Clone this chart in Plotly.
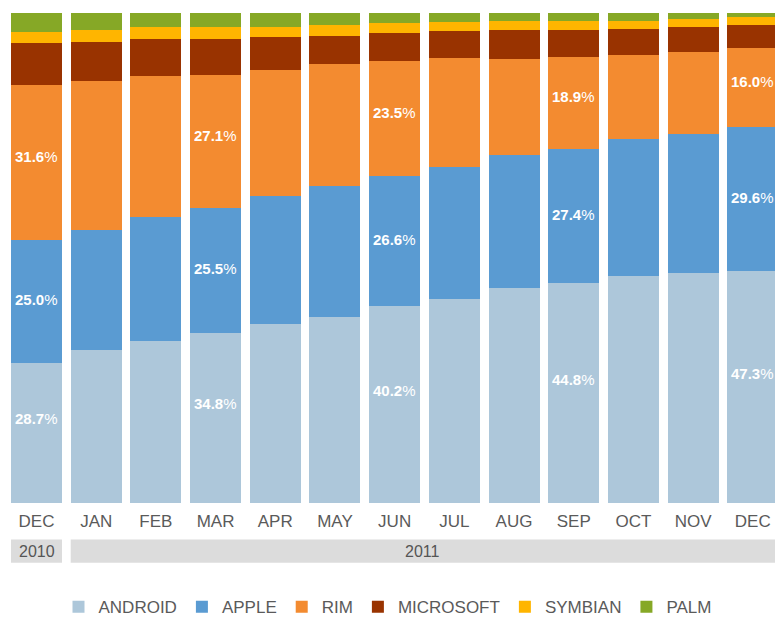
import plotly.graph_objects as go

months = ['DEC', 'JAN', 'FEB', 'MAR', 'APR', 'MAY', 'JUN', 'JUL', 'AUG', 'SEP', 'OCT', 'NOV', 'DEC']
years = ['2010', '2011']
year_spans = [(0, 0), (1, 12)]  # first and last month index for each year

android = [28.7, 31.2, 33.0, 34.8, 36.5, 38.0, 40.2, 41.6, 43.8, 44.8, 46.3, 46.9, 47.3]
apple = [25.0, 24.6, 25.3, 25.5, 26.1, 26.7, 26.6, 27.0, 27.3, 27.4, 27.9, 28.5, 29.6]
rim = [31.6, 30.4, 28.7, 27.1, 25.8, 24.9, 23.5, 22.1, 19.6, 18.9, 17.2, 16.6, 16.0]
microsoft = [8.6, 8.0, 7.6, 7.4, 6.7, 5.8, 5.9, 5.5, 5.9, 5.5, 5.4, 5.2, 4.7]
symbian = [2.4, 2.5, 2.5, 2.5, 2.1, 2.1, 2.0, 1.8, 1.8, 1.8, 1.6, 1.6, 1.6]
palm = [3.8, 3.4, 2.8, 2.8, 2.8, 2.5, 2.0, 1.9, 1.6, 1.6, 1.6, 1.2, 0.9]

labelled = [0, 3, 6, 9, 12]  # months that carry value labels

series = [
    ('ANDROID', android, '#adc7da'),
    ('APPLE', apple, '#5a9bd2'),
    ('RIM', rim, '#f38b30'),
    ('MICROSOFT', microsoft, '#993300'),
    ('SYMBIAN', symbian, '#ffb500'),
    ('PALM', palm, '#86a826'),
]
label_shift = {'ANDROID': 14, 'APPLE': 2, 'RIM': 6}

FONT = 'Liberation Sans, Arial, sans-serif'
x = list(range(len(months)))
x_range = [-0.6115, 12.372]
half_bar = 0.427

fig = go.Figure()
for name, vals, colour in series:
    fig.add_trace(go.Bar(x=x, y=vals, name=name,
                         marker=dict(color=colour, line_width=0)))

# value labels, placed at the middle of each segment
totals = [sum(s[1][i] for s in series) for i in x]
base = [0.0] * len(x)
for name, vals, colour in series:
    if name in label_shift:
        for i in labelled:
            mid = (base[i] + vals[i] / 2) / totals[i] * 100
            fig.add_annotation(x=i, y=mid, text='<b>{:.1f}</b>%'.format(vals[i]),
                               showarrow=False, yshift=label_shift[name],
                               xanchor='center', yanchor='middle',
                               font=dict(family=FONT, size=15, color='white'))
    base = [b + v for b, v in zip(base, vals)]

# year bands below the month labels
for year, (first, last) in zip(years, year_spans):
    x0 = first - half_bar
    x1 = last + half_bar
    fig.add_shape(type='rect', xref='x', yref='paper', x0=x0, x1=x1,
                  y0=-0.122, y1=-0.0745, fillcolor='#dcdcdc', line_width=0, layer='below')
    centre = (x0 + min(x1, x_range[1])) / 2
    fig.add_annotation(x=centre, xref='x', y=-0.098, yref='paper', text=year,
                       showarrow=False, xanchor='center', yanchor='middle',
                       font=dict(family=FONT, size=16, color='#555555'))

fig.update_layout(
    barmode='stack', barnorm='percent', bargap=0.146,
    width=775, height=618,
    margin=dict(l=0, r=0, t=13, b=115, autoexpand=False),
    paper_bgcolor='white', plot_bgcolor='white',
    font=dict(family=FONT, color='#5a5a5a'),
    showlegend=True,
    legend=dict(orientation='h', x=0.5, xanchor='center', y=-0.2125, yanchor='middle',
                font=dict(family=FONT, size=17, color='#5a5a5a'), traceorder='normal'),
)
fig.update_xaxes(range=x_range, tickvals=x, ticktext=months, showgrid=False,
                 zeroline=False, showline=False, ticks='', ticklabelstandoff=6,
                 tickfont=dict(family=FONT, size=17, color='#5a5a5a'))
fig.update_yaxes(range=[0, 100], visible=False, showgrid=False)

fig.write_html('out.html', config={'displayModeBar': False},
               post_script="document.body.style.margin='0px';")
